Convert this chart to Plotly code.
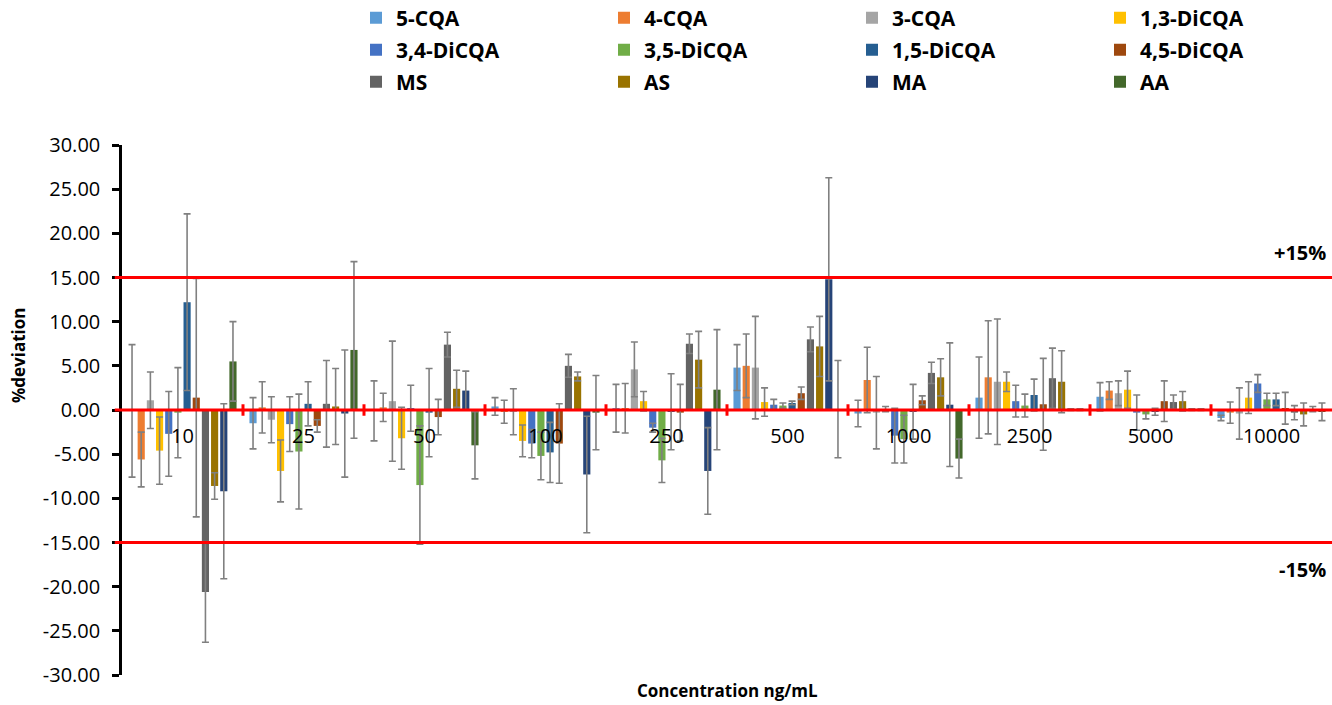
import plotly.graph_objects as go

categories = ["10", "25", "50", "100", "250", "500", "1000", "2500", "5000", "10000"]

series_names = ["5-CQA", "4-CQA", "3-CQA", "1,3-DiCQA",
                "3,4-DiCQA", "3,5-DiCQA", "1,5-DiCQA", "4,5-DiCQA",
                "MS", "AS", "MA", "AA"]

cqa5 = [-0.1, -1.5, -0.1, 0.4, 0.2, 4.8, -0.4, 1.4, 1.5, -0.9]
cqa5_err = [7.5, 2.9, 3.4, 1.0, 2.7, 2.6, 1.5, 4.6, 1.6, 0.3]

cqa4 = [-5.6, 0.3, 0.3, -0.2, 0.2, 5.0, 3.4, 3.7, 2.2, -0.3]
cqa4_err = [3.1, 2.9, 1.6, 1.3, 2.8, 3.6, 3.7, 6.4, 1.0, 1.2]

cqa3 = [1.1, -1.1, 1.0, -0.2, 4.6, 4.8, -0.3, 3.2, 1.9, -0.4]
cqa3_err = [3.2, 2.6, 6.8, 2.6, 3.1, 5.8, 4.1, 7.1, 1.4, 2.9]

dicqa13 = [-4.6, -6.9, -3.2, -3.5, 1.0, 0.9, 0.1, 3.2, 2.3, 1.4]
dicqa13_err = [3.8, 3.5, 3.5, 1.8, 1.1, 1.6, 0.3, 1.1, 2.1, 1.8]

dicqa34 = [-2.7, -1.6, 0.2, -3.8, -2.0, 0.6, -2.9, 1.0, -0.3, 3.0]
dicqa34_err = [4.8, 3.1, 2.6, 1.6, 0.5, 0.6, 3.1, 1.8, 2.0, 1.0]

dicqa35 = [-0.3, -4.7, -8.5, -5.2, -5.7, 0.5, -3.3, 0.5, -0.5, 1.2]
dicqa35_err = [5.1, 6.5, 6.7, 2.7, 2.5, 0.3, 2.7, 1.3, 0.5, 0.7]

dicqa15 = [12.2, 0.7, -0.3, -4.8, -0.2, 0.8, -0.2, 1.7, -0.2, 1.2]
dicqa15_err = [10.0, 2.5, 5.0, 3.4, 4.3, 0.2, 3.1, 1.8, 0.4, 0.7]

dicqa45 = [1.4, -1.8, -0.8, -3.8, -0.3, 1.9, 1.1, 0.65, 1.0, 0.2]
dicqa45_err = [13.5, 0.7, 2.0, 4.5, 3.2, 0.7, 0.5, 5.2, 2.3, 1.8]

ms = [-20.6, 0.7, 7.4, 5.0, 7.5, 8.0, 4.2, 3.6, 0.9, -0.3]
ms_err = [5.7, 4.9, 1.4, 1.3, 1.1, 1.4, 1.2, 3.4, 0.8, 0.8]

as_ = [-8.6, 0.4, 2.4, 3.8, 5.7, 7.2, 3.7, 3.2, 1.0, -0.5]
as_err = [1.5, 4.3, 2.1, 0.5, 3.2, 3.4, 2.1, 3.5, 1.1, 1.3]

ma = [-9.2, -0.4, 2.2, -7.3, -6.9, 14.8, 0.6, 0.05, 0.05, 0.1]
ma_err = [9.9, 7.2, 2.2, 6.6, 4.9, 11.5, 7.0, 0.1, 0.1, 0.3]

aa = [5.5, 6.8, -4.0, -0.3, 2.3, 0.1, -5.5, 0.05, 0.05, -0.2]
aa_err = [4.5, 10.0, 3.8, 4.2, 6.8, 5.5, 2.2, 0.1, 0.1, 1.0]

values = [cqa5, cqa4, cqa3, dicqa13, dicqa34, dicqa35, dicqa15, dicqa45, ms, as_, ma, aa]
errors = [cqa5_err, cqa4_err, cqa3_err, dicqa13_err, dicqa34_err, dicqa35_err,
          dicqa15_err, dicqa45_err, ms_err, as_err, ma_err, aa_err]

colors = ["#5B9BD5", "#ED7D31", "#A5A5A5", "#FFC000",
          "#4472C4", "#70AD47", "#255E91", "#9E480E",
          "#636363", "#997300", "#264478", "#43682B"]

y_tickvals = [30, 25, 20, 15, 10, 5, 0, -5, -10, -15, -20, -25, -30]
y_ticktext = ["30.00", "25.00", "20.00", "15.00", "10.00", "5.00", "0.00",
              "-5.00", "-10.00", "-15.00", "-20.00", "-25.00", "-30.00"]

limit_lines = [15, 0, -15]
limit_labels = ["+15%", "-15%"]

FONT = "Open Sans"

W, H = 1332, 705
ML, MR, MT, MB = 122, 0, 145, 30
PW, PH = W - ML - MR, H - MT - MB


def px_x(px):
    return (px - ML) / PW


def px_y(py):
    return (H - MB - py) / PH


fig = go.Figure()
legend_ids = ["legend", "legend2", "legend3"]
for i, (name, v, e, c) in enumerate(zip(series_names, values, errors, colors)):
    fig.add_trace(go.Bar(
        x=categories, y=v, name=name,
        marker=dict(color=c, line=dict(width=0)),
        error_y=dict(type="data", array=e, visible=True,
                     color="#808080", thickness=1.6, width=3.5),
        legend=legend_ids[i // 4],
    ))

shapes = []
for yv in limit_lines:
    shapes.append(dict(type="line", xref="paper", yref="y", x0=-0.006, x1=1,
                       y0=yv, y1=yv, line=dict(color="#FF0000", width=3),
                       layer="above"))
for k in range(len(categories) - 1):
    shapes.append(dict(type="line", xref="x", yref="y", x0=k + 0.5, x1=k + 0.5,
                       y0=-0.65, y1=0.65, line=dict(color="#FF0000", width=3),
                       layer="above"))

row_y = [18, 50, 82]
legend_common = dict(orientation="h", xref="container", yref="container",
                     x=356 / W, xanchor="left", yanchor="middle",
                     entrywidth=203, entrywidthmode="pixels",
                     font=dict(family=FONT, size=21, color="#000000", weight="bold"),
                     bgcolor="rgba(0,0,0,0)", borderwidth=0, itemclick=False)

annotations = [
    dict(text="Concentration ng/mL", xref="paper", yref="paper",
         x=0.5, y=px_y(690), showarrow=False, xanchor="center", yanchor="middle",
         font=dict(family=FONT, size=17, color="#000000", weight="bold")),
    dict(text="%deviation", xref="paper", yref="paper",
         x=px_x(18), y=px_y(355), showarrow=False, textangle=-90,
         xanchor="center", yanchor="middle",
         font=dict(family=FONT, size=17, color="#000000", weight="bold")),
    dict(text=limit_labels[0], xref="paper", yref="y", x=0.997, y=limit_lines[0],
         yshift=25, showarrow=False, xanchor="right", yanchor="middle",
         font=dict(family=FONT, size=20, color="#000000", weight="bold")),
    dict(text=limit_labels[1], xref="paper", yref="y", x=0.997, y=limit_lines[2],
         yshift=-27, showarrow=False, xanchor="right", yanchor="middle",
         font=dict(family=FONT, size=20, color="#000000", weight="bold")),
]

fig.update_layout(
    width=W, height=H,
    margin=dict(l=ML, r=MR, t=MT, b=MB),
    plot_bgcolor="white", paper_bgcolor="white",
    barmode="group", bargap=0.09, bargroupgap=0.22,
    shapes=shapes, annotations=annotations,
    legend=dict(legend_common, y=1 - row_y[0] / H),
    legend2=dict(legend_common, y=1 - row_y[1] / H),
    legend3=dict(legend_common, y=1 - row_y[2] / H),
    xaxis=dict(type="category", anchor="free", position=0.5,
               showline=False, ticks="", showgrid=False, zeroline=False,
               tickfont=dict(family=FONT, size=20, color="#000000"),
               ticklabelstandoff=12),
    yaxis=dict(range=[-30, 30], tickmode="array",
               tickvals=y_tickvals, ticktext=y_ticktext,
               showline=True, linecolor="#000000", linewidth=2.5,
               ticks="outside", ticklen=7, tickwidth=2.5, tickcolor="#000000",
               showgrid=False, zeroline=False,
               tickfont=dict(family=FONT, size=20, color="#000000"),
               ticklabelstandoff=8),
)

fig.write_html("out.html")
